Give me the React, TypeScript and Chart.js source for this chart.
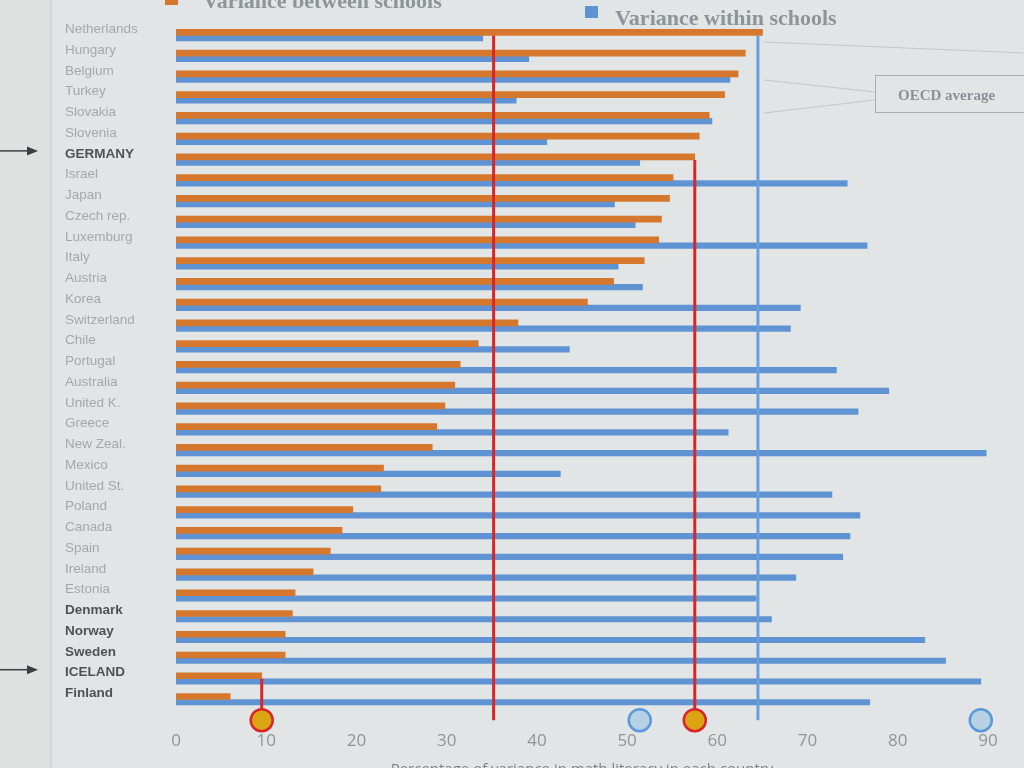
import React, { useEffect, useRef } from 'react';
import { Chart, registerables } from 'chart.js';

Chart.register(...registerables);

const countries = [
  'Netherlands', 'Hungary', 'Belgium', 'Turkey', 'Slovakia', 'Slovenia', 'GERMANY', 'Israel', 'Japan',
  'Czech rep.', 'Luxemburg', 'Italy', 'Austria', 'Korea', 'Switzerland', 'Chile', 'Portugal', 'Australia',
  'United K.', 'Greece', 'New Zeal.', 'Mexico', 'United St.', 'Poland', 'Canada', 'Spain', 'Ireland',
  'Estonia', 'Denmark', 'Norway', 'Sweden', 'ICELAND', 'Finland',
];

const betweenSchools = [
  65.0, 63.1, 62.3, 60.8, 59.1, 58.0, 57.5, 55.1, 54.7, 53.8, 53.5, 51.9, 48.5, 45.6, 37.9, 33.5, 31.5,
  30.9, 29.8, 28.9, 28.4, 23.0, 22.7, 19.6, 18.4, 17.1, 15.2, 13.2, 12.9, 12.1, 12.1, 9.5, 6.0,
];

const withinSchools = [
  34.0, 39.1, 61.4, 37.7, 59.4, 41.1, 51.4, 74.4, 48.6, 50.9, 76.6, 49.0, 51.7, 69.2, 68.1, 43.6, 73.2,
  79.0, 75.6, 61.2, 89.8, 42.6, 72.7, 75.8, 74.7, 73.9, 68.7, 64.3, 66.0, 83.0, 85.3, 89.2, 76.9,
];

const xTickValues = [0, 10, 20, 30, 40, 50, 60, 70, 80, 90];
const oecdBetweenAverage = 35.2;
const oecdWithinAverage = 64.5;
const highlightedCountries = ['GERMANY', 'ICELAND'];
const boldCountries = ['GERMANY', 'Denmark', 'Norway', 'Sweden', 'ICELAND', 'Finland'];
const markerRow = '';
const seriesNames = ['Variance between schools', 'Variance within schools'];
const axisTitle = 'Percentage of variance in math literacy in each country';
const annotationText = 'OECD average';

const ORANGE = '#d5782d';
const BLUE = '#5f93d4';
const RED = '#d8262c';
const REF_BLUE = '#6b9fd9';

const categories = [...countries, markerRow];

const decorPlugin = {
  id: 'decor',
  beforeDraw(chart: any) {
    const { ctx, width, height } = chart;
    ctx.save();
    ctx.fillStyle = '#dde2e1';
    ctx.fillRect(0, 0, width, height);
    ctx.fillStyle = '#e1e5e5';
    ctx.fillRect(51, 0, width - 51, height);
    ctx.strokeStyle = '#c7cdcc';
    ctx.lineWidth = 1.2;
    ctx.beginPath();
    ctx.moveTo(51, 0);
    ctx.lineTo(51, height);
    ctx.stroke();
    ctx.restore();
  },
  afterDraw(chart: any) {
    const { ctx } = chart;
    const xs = chart.scales.x;
    const ys = chart.scales.y;
    ctx.save();

    // legend
    ctx.font = 'bold 22px "Liberation Serif", serif';
    ctx.textBaseline = 'alphabetic';
    ctx.textAlign = 'left';
    ctx.fillStyle = ORANGE;
    ctx.fillRect(165, -8, 13, 13);
    ctx.fillStyle = '#8e9498';
    ctx.fillText(seriesNames[0], 203, 8);
    ctx.fillStyle = BLUE;
    ctx.fillRect(585, 6, 13, 12);
    ctx.fillStyle = '#8e9498';
    ctx.fillText(seriesNames[1], 615, 25);

    // OECD average annotation
    const xw = xs.getPixelForValue(oecdWithinAverage);
    ctx.strokeStyle = '#c2c7c8';
    ctx.lineWidth = 1;
    ctx.beginPath();
    ctx.moveTo(xw + 6, 42);
    ctx.lineTo(1024, 53);
    ctx.moveTo(xw + 6, 80);
    ctx.lineTo(875, 92);
    ctx.moveTo(xw + 6, 113);
    ctx.lineTo(875, 100);
    ctx.stroke();
    ctx.strokeStyle = '#a9afb1';
    ctx.strokeRect(875.5, 75.5, 170, 37);
    ctx.font = 'bold 15px "Liberation Serif", serif';
    ctx.fillStyle = '#8b9195';
    ctx.fillText(annotationText, 898, 100);

    // arrows to highlighted countries
    ctx.strokeStyle = '#3c3f40';
    ctx.fillStyle = '#3c3f40';
    ctx.lineWidth = 1.5;
    highlightedCountries.forEach((c) => {
      const y = ys.getPixelForValue(categories.indexOf(c)) - 9;
      ctx.beginPath();
      ctx.moveTo(0, y);
      ctx.lineTo(30, y);
      ctx.stroke();
      ctx.beginPath();
      ctx.moveTo(38, y);
      ctx.lineTo(27, y - 4.5);
      ctx.lineTo(27, y + 4.5);
      ctx.closePath();
      ctx.fill();
    });
    ctx.restore();
  },
};

export default function App() {
  const ref = useRef<HTMLCanvasElement>(null);

  useEffect(() => {
    const rowOf = (c: string) => countries.indexOf(c);
    const connectorSets = highlightedCountries.map((c) => ({
      type: 'scatter' as const,
      label: c,
      data: [
        { x: betweenSchools[rowOf(c)], y: c },
        { x: betweenSchools[rowOf(c)], y: markerRow },
      ],
      showLine: true,
      borderColor: RED,
      borderWidth: 3,
      pointRadius: 0,
      order: 1,
      clip: false,
    }));

    const chart = new Chart(ref.current as HTMLCanvasElement, {
      type: 'bar',
      data: {
        labels: categories,
        datasets: [
          {
            type: 'bar',
            label: seriesNames[0],
            data: betweenSchools,
            backgroundColor: ORANGE,
            barThickness: 6,
            order: 3,
          },
          {
            type: 'bar',
            label: seriesNames[1],
            data: withinSchools,
            backgroundColor: BLUE,
            barThickness: 5.5,
            order: 3,
          },
          {
            type: 'scatter',
            label: 'OECD between',
            data: [
              { x: oecdBetweenAverage, y: countries[0] },
              { x: oecdBetweenAverage, y: markerRow },
            ],
            showLine: true,
            borderColor: RED,
            borderWidth: 3,
            pointRadius: 0,
            order: 1,
            clip: false,
          },
          {
            type: 'scatter',
            label: 'OECD within',
            data: [
              { x: oecdWithinAverage, y: countries[0] },
              { x: oecdWithinAverage, y: markerRow },
            ],
            showLine: true,
            borderColor: REF_BLUE,
            borderWidth: 3,
            pointRadius: 0,
            order: 1,
            clip: false,
          },
          ...connectorSets,
          {
            type: 'scatter',
            label: 'between markers',
            data: highlightedCountries.map((c) => ({ x: betweenSchools[rowOf(c)], y: markerRow })),
            pointRadius: 11,
            pointBackgroundColor: '#dba412',
            pointBorderColor: RED,
            pointBorderWidth: 2.5,
            order: 0,
            clip: false,
          },
          {
            type: 'scatter',
            label: 'within markers',
            data: highlightedCountries.map((c) => ({ x: withinSchools[rowOf(c)], y: markerRow })),
            pointRadius: 11,
            pointBackgroundColor: '#b6d1e6',
            pointBorderColor: '#5b9ad8',
            pointBorderWidth: 2.5,
            order: 0,
            clip: false,
          },
        ] as any,
      },
      options: {
        indexAxis: 'y',
        animation: false,
        responsive: false,
        devicePixelRatio: 1,
        layout: { padding: { left: 65, right: 36, top: 25, bottom: 7 } },
        plugins: {
          legend: { display: false },
          tooltip: { enabled: false },
        },
        scales: {
          x: {
            type: 'linear',
            position: 'bottom',
            min: xTickValues[0],
            max: xTickValues[xTickValues.length - 1],
            afterBuildTicks: (scale: any) => {
              scale.ticks = xTickValues.map((v) => ({ value: v }));
            },
            grid: { display: false, drawTicks: false },
            border: { display: false },
            ticks: {
              padding: 0,
              color: '#8f9598',
              font: { family: '"Open Sans", sans-serif', size: 17 },
            },
            title: {
              display: true,
              text: axisTitle,
              color: '#7d8387',
              font: { family: '"Open Sans", sans-serif', size: 15 },
              padding: { top: 10, bottom: 4 },
            },
          },
          y: {
            type: 'category',
            position: 'left',
            grid: { display: false, drawTicks: false },
            border: { display: false },
            afterFit: (scale: any) => {
              scale.width = 111;
            },
            ticks: {
              crossAlign: 'far',
              padding: 0,
              labelOffset: -6,
              autoSkip: false,
              color: (c: any) => (boldCountries.includes(c.tick?.label) ? '#4e5355' : '#a3a8aa'),
              font: (c: any) => ({
                family: '"Liberation Sans", Arial, sans-serif',
                size: 13.5,
                weight: boldCountries.includes(c.tick?.label) ? 'bold' : 'normal',
              }),
            },
          },
        },
      } as any,
      plugins: [decorPlugin],
    });
    return () => chart.destroy();
  }, []);

  return (
    <div
      style={{
        position: 'fixed',
        left: 0,
        top: 0,
        width: 1024,
        height: 768,
        overflow: 'hidden',
        background: '#dde2e1',
      }}
    >
      <canvas ref={ref} width={1024} height={790} style={{ display: 'block', width: 1024, height: 790 }} />
    </div>
  );
}
